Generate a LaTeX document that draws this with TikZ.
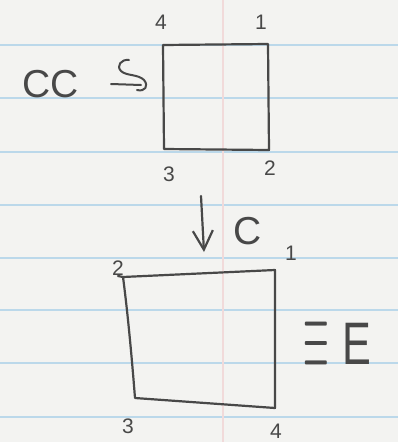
\RequirePackage{fix-cm}
\documentclass[tikz,border=0pt]{standalone}
\usepackage{fontspec}
\usepackage{graphicx}
\setmainfont{Liberation Sans}
\usetikzlibrary{arrows.meta}
\definecolor{paper}{HTML}{F3F3F1}
\definecolor{rulecol}{HTML}{BBD8EA}
\definecolor{margincol}{HTML}{F1DADA}
\definecolor{ink}{HTML}{484848}
\begin{document}
\begin{tikzpicture}[x=1pt,y=-1pt,
  pen/.style={draw=ink, line width=2.2pt, line join=round, line cap=round},
  lbl/.style={text=ink, inner sep=0pt, font=\fontsize{21}{21}\selectfont},
  big/.style={text=ink, inner sep=0pt, font=\fontsize{39}{39}\selectfont}]
\fill[paper] (0,0) rectangle (398,442);
\useasboundingbox (0,0) rectangle (398,442);
\foreach \y in {45,98,152,205,258,310,363,417}
  \draw[rulecol, line width=1.6pt] (0,\y) -- (398,\y);
\draw[margincol, line width=1.4pt] (223,0) -- (223,442);

% top square
\coordinate (t4) at (163,45);
\coordinate (t1) at (268,44);
\coordinate (t2) at (269,150);
\coordinate (t3) at (164,149);
\draw[pen] (t4) -- (t1) -- (t2) -- (t3) -- cycle;
\node[lbl] (l4) at (161,22) {4};
\node[lbl] (l1) at (261,22) {1};
\node[lbl] (l3) at (169,174) {3};
\node[lbl] (l2) at (270,168) {2};

% CC and rotation symbol
\node[big] (cc) at (51,84) {CC};
\draw[pen, line width=2pt] (129,60) .. controls (121,59) and (116,66) .. (121,71)
  .. controls (126,76) and (138,74) .. (144,80)
  .. controls (149,86) and (145,92) .. (137,90);
\draw[pen, line width=2pt] (111,84) -- (141,85);

% down arrow
\coordinate (as) at (201,196);
\coordinate (ae) at (204,252);
\draw[pen, -{Straight Barb[length=19pt,width=20pt,line width=2.2pt]}] (as) -- (ae);
\node[big] (c) at (248,231) {C};

% bottom rectangle
\coordinate (b2) at (123,277);
\coordinate (b1) at (275,270);
\coordinate (b4) at (275,408);
\coordinate (b3) at (135,398);
\draw[pen] (b2) -- (b1) -- (b4) -- (b3) .. controls (132,360) and (128,315) .. (b2) -- (118,276);
\node[lbl] (m2) at (118,268) {2};
\node[lbl] (m1) at (291,253) {1};
\node[lbl] (m3) at (128,426) {3};
\node[lbl] (m4) at (276,431) {4};

% equivalence
\node[text=ink, inner sep=0pt, anchor=south west] (eq) at (303,369)
  {\raisebox{-4pt}{\scalebox{0.33}[1]{\fontsize{100}{100}\selectfont$\equiv$}}\hspace{14pt}\scalebox{0.72}[1]{\fontsize{60}{60}\selectfont E}};
\end{tikzpicture}
\end{document}
